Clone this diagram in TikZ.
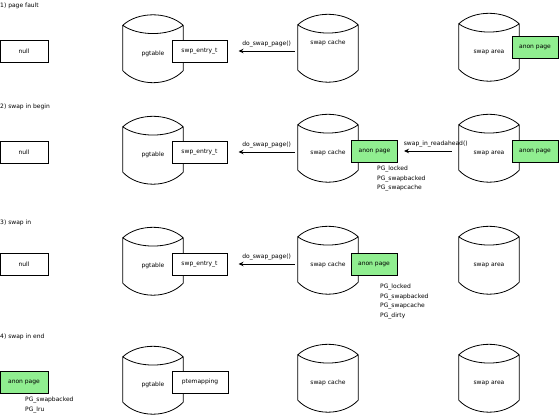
\documentclass[tikz,border=0pt]{standalone}
\usepackage{fontspec}
\setmainfont{DejaVu Sans}
\usetikzlibrary{arrows.meta}
\definecolor{pagegreen}{RGB}{144,238,144}
\newcommand{\storage}[5][7pt]{%
  \node[cyl] (#2) at (#3,#4) {\raisebox{-#1}[0pt][0pt]{#5}};
  \draw[thin line] (#2.north west) -- (#2.south west)
    .. controls +(15pt,-16pt) and +(-15pt,-16pt) .. (#2.south east) -- (#2.north east)
    .. controls +(-15pt,14pt) and +(15pt,14pt) .. (#2.north west)
    .. controls +(15pt,-11pt) and +(-15pt,-11pt) .. (#2.north east);
}
\begin{document}
\begin{tikzpicture}[x=1pt,y=-1pt,
    every node/.style={font=\fontsize{6}{7}\selectfont},
    thin line/.style={line width=0.8pt},
    cyl/.style={minimum width=60pt,minimum height=45pt,inner sep=0pt},
    box/.style={draw,fill=white,line width=1pt,minimum height=22pt,inner sep=2pt},
    anon/.style={box,fill=pagegreen,minimum width=46pt},
    flags/.style={align=left,anchor=north west,inner sep=0pt,font=\fontsize{6}{9.5}\selectfont},
    call/.style={-{Stealth[length=5pt,width=4.5pt]},line width=1pt}]
    \useasboundingbox (0,0) rectangle (560,415);

    \node[anchor=west,inner sep=0pt] (titleA) at (0,6) {1) page fault};
    \node[box,minimum width=48pt] (nullA) at (24,51) {null};
    \storage{pgA}{153}{48}{pgtable}
    \node[box,minimum width=55pt] (entryA) at (199.5,51) {swp\_entry\_t};
    \storage[-3pt]{cacheA}{328}{47.5}{swap cache}
    \storage{areaA}{489}{46.5}{swap area}
    \node[anon] (anonA) at (535,47.5) {anon page};
    \draw[call,shorten <=3pt,shorten >=11pt] (cacheA.west |- entryA) -- (entryA.east) node[midway,above,xshift=4pt] (callA) {do\_swap\_page()};

    \node[anchor=west,inner sep=0pt] (titleB) at (0,107) {2) swap in begin};
    \node[box,minimum width=48pt] (nullB) at (24,152) {null};
    \storage{pgB}{153}{149.5}{pgtable}
    \node[box,minimum width=55pt] (entryB) at (199.5,152) {swp\_entry\_t};
    \storage{cacheB}{328}{147.5}{swap cache}
    \node[anon] (anonB) at (374.5,151) {anon page};
    \storage{areaB}{489}{147.5}{swap area}
    \node[anon] (anonB2) at (535,151) {anon page};
    \draw[call,shorten <=3pt,shorten >=11pt] (cacheB.west |- entryB) -- (entryB.east) node[midway,above,xshift=4pt] (callB) {do\_swap\_page()};
    \draw[call,shorten <=7pt,shorten >=6pt] (areaB.west |- anonB) -- (anonB.east) node[at end,above right,xshift=2pt] (callB2) {swap\_in\_readahead()};
    \node[flags] (flagsB) at (377,166) {PG\_locked\\PG\_swapbacked\\PG\_swapcache};

    \node[anchor=west,inner sep=0pt] (titleC) at (0,223) {3) swap in};
    \node[box,minimum width=48pt] (nullC) at (24,264) {null};
    \storage{pgC}{153}{260.5}{pgtable}
    \node[box,minimum width=55pt] (entryC) at (199.5,264) {swp\_entry\_t};
    \storage{cacheC}{328}{259.5}{swap cache}
    \node[anon] (anonC) at (374,264) {anon page};
    \storage{areaC}{489}{259.5}{swap area}
    \draw[call,shorten <=3pt,shorten >=11pt] (cacheC.west |- entryC) -- (entryC.east) node[midway,above,xshift=4pt] (callC) {do\_swap\_page()};
    \node[flags] (flagsC) at (380,284) {PG\_locked\\PG\_swapbacked\\PG\_swapcache\\PG\_dirty};

    \node[anchor=west,inner sep=0pt] (titleD) at (0,337) {4) swap in end};
    \node[anon,minimum width=48pt] (anonD) at (24,382) {anon page};
    \storage{pgD}{153}{379.5}{pgtable}
    \node[box,minimum width=56pt] (pteD) at (200,382) {ptemapping};
    \storage{cacheD}{328}{377.5}{swap cache}
    \storage{areaD}{489}{377.5}{swap area}
    \node[flags] (flagsD) at (25,397) {PG\_swapbacked\\PG\_lru};
\end{tikzpicture}
\end{document}
